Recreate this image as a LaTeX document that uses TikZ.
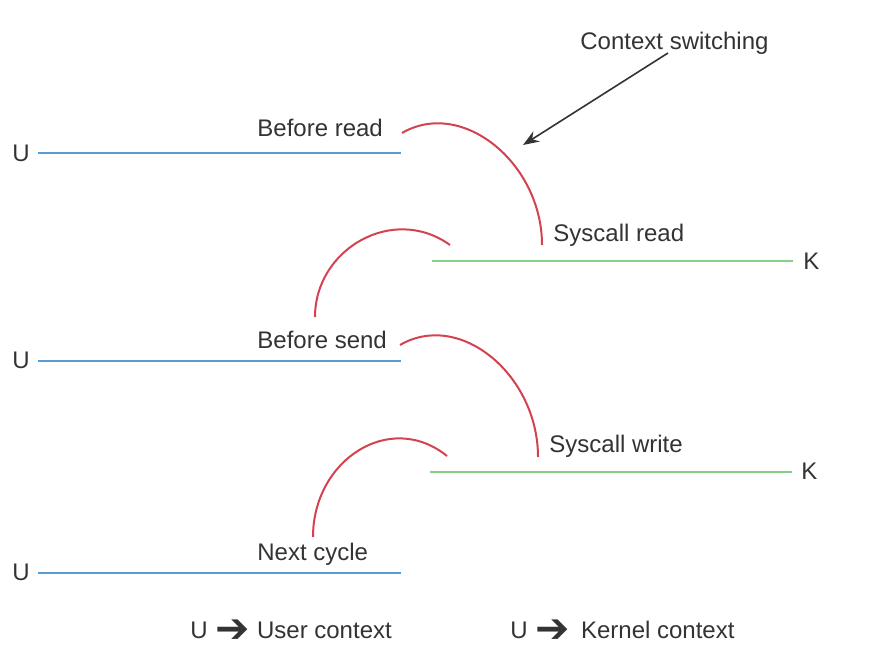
\documentclass[tikz,border=0pt]{standalone}
\usepackage{fontspec}
\setmainfont{Liberation Sans}
\newfontfamily\symbolfont{DejaVu Sans}
\usetikzlibrary{arrows.meta}
\definecolor{userblue}{HTML}{5B9BD5}
\definecolor{kernelgreen}{HTML}{86CF86}
\definecolor{switchred}{HTML}{D4424F}
\definecolor{labelgray}{HTML}{333333}
\newcommand{\legendarrow}{\raisebox{-2pt}{\symbolfont\fontsize{20.5}{20}\selectfont ➔}}

\begin{document}
\begin{tikzpicture}[x=0.5pt,y=-0.5pt,
  lbl/.style={inner sep=0pt,anchor=base west,text=labelgray,font=\fontsize{12}{14}\selectfont},
  userline/.style={userblue,line width=1.35pt},
  kernelline/.style={kernelgreen,line width=1.35pt},
  switch/.style={switchred,line width=1pt}]
\useasboundingbox (0,0) rectangle (870,658);
\node[lbl] (u1) at (12,161) {U};
\node[lbl] (u2) at (12,368) {U};
\node[lbl] (u3) at (12,580) {U};
\node[lbl] (k1) at (803,269) {K};
\node[lbl] (k2) at (801,479) {K};
\node[lbl] (br) at (257,136) {Before read};
\node[lbl] (sr) at (553,241) {Syscall read};
\node[lbl] (bs) at (257,348) {Before send};
\node[lbl] (sw) at (549,452) {Syscall write};
\node[lbl] (nc) at (257,560) {Next cycle};
\node[lbl] (cs) at (580,50) {Context switching};
\node[lbl] (lu) at (190,638) {U\hspace{4pt}\legendarrow\hspace{3.5pt}User context};
\node[lbl] (lk) at (510,638) {U\hspace{4pt}\legendarrow\hspace{5.5pt}Kernel context};
\coordinate (u1a) at (38,153);
\coordinate (u1b) at (401,153);
\coordinate (u2a) at (38,361);
\coordinate (u2b) at (401,361);
\coordinate (u3a) at (38,573);
\coordinate (u3b) at (401,573);
\coordinate (k1a) at (432,261);
\coordinate (k1b) at (793,261);
\coordinate (k2a) at (430,472);
\coordinate (k2b) at (792,472);
\draw[userline] (u1a) -- (u1b);
\draw[userline] (u2a) -- (u2b);
\draw[userline] (u3a) -- (u3b);
\draw[kernelline] (k1a) -- (k1b);
\draw[kernelline] (k2a) -- (k2b);
\coordinate (s1a) at (402,133);
\coordinate (s1b) at (542,245);
\coordinate (s2a) at (450,245);
\coordinate (s2b) at (315,317);
\coordinate (s3a) at (400,345);
\coordinate (s3b) at (538,457);
\coordinate (s4a) at (447,456);
\coordinate (s4b) at (313,537);
\draw[switch] (s1a) .. controls +(60,-35) and +(0,-82) .. (s1b);
\draw[switch] (s2a) .. controls +(-57,-41) and +(0,-68) .. (s2b);
\draw[switch] (s3a) .. controls +(60,-35) and +(0,-82) .. (s3b);
\draw[switch] (s4a) .. controls +(-57,-46) and +(0,-77) .. (s4b);
\coordinate (csa) at (668,53);
\coordinate (csb) at (523,145);
\draw[labelgray,line width=0.8pt,-{Stealth[length=8pt,width=6pt]}] (csa) -- (csb);
\end{tikzpicture}
\end{document}
